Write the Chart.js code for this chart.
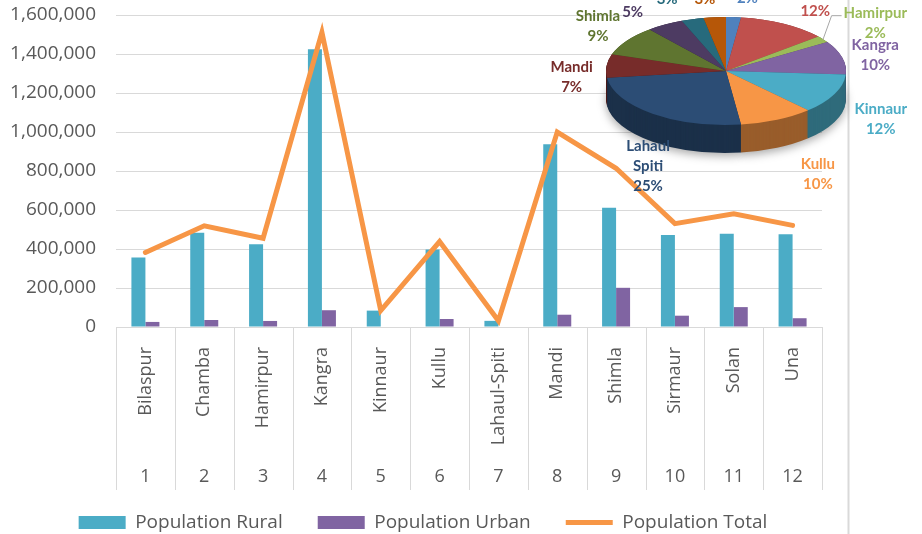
<!DOCTYPE html>
<html><head><meta charset="utf-8">
<script src="https://cdn.jsdelivr.net/npm/chart.js@4.4.0/dist/chart.umd.min.js"></script>
<style>
html,body{margin:0;padding:0;background:#fff;overflow:hidden;}
#wrap{position:relative;width:922px;height:534px;overflow:hidden;background:#fff;}
#main{position:absolute;left:0;top:0;width:922px;height:534px;}
#pie{position:absolute;left:540px;top:-60px;width:382px;height:300px;}
</style></head><body>
<div id="wrap">
<canvas id="main" width="922" height="534"></canvas>
<canvas id="pie" width="382" height="300"></canvas>
</div>
<script>
// ---- data ----
const districts = ['Bilaspur','Chamba','Hamirpur','Kangra','Kinnaur','Kullu','Lahaul-Spiti','Mandi','Shimla','Sirmaur','Solan','Una'];
const districtNumbers = ['1','2','3','4','5','6','7','8','9','10','11','12'];
const populationRural = [356000, 483000, 424000, 1425000, 84000, 397000, 31500, 937000, 612000, 472000, 478000, 476000];
const populationUrban = [26000, 36000, 31000, 86000, 0, 41000, 0, 63000, 201000, 58000, 102000, 45000];
const populationTotal = [382000, 519000, 455000, 1511000, 84000, 438000, 31500, 1000000, 814000, 530000, 580000, 521000];
const yTicks = [0, 200000, 400000, 600000, 800000, 1000000, 1200000, 1400000, 1600000];
const pieLabels = ['Bilaspur','Chamba','Hamirpur','Kangra','Kinnaur','Kullu','Lahaul Spiti','Mandi','Shimla','Sirmaur','Solan','Una'];
const pieShare = [2, 12, 2, 10, 12, 10, 25, 7, 9, 5, 3, 3];

// ---- styles ----
const GRID = '#d9d9d9', TXT = '#595959';
const FONT = "'Open Sans', 'DejaVu Sans', sans-serif";
const pieColors = ['#4F81BD','#C0504D','#9BBB59','#8064A2','#4BACC6','#F79646','#2C4D75','#772C2A','#5F7530','#4D3B62','#276A7C','#B65708'];
function darken(hex, f){
  const n = parseInt(hex.slice(1),16);
  const r = Math.round(((n>>16)&255)*f), g = Math.round(((n>>8)&255)*f), b = Math.round((n&255)*f);
  return 'rgb('+r+','+g+','+b+')';
}

const separators = {
  id: 'separators',
  afterDraw(chart){
    const {ctx, scales:{x, x2}} = chart;
    const n = x.ticks.length, w = x.width / n;
    ctx.save();
    ctx.strokeStyle = GRID; ctx.lineWidth = 1;
    for (let i = 0; i <= n; i++){
      const px = Math.round(x.left + i*w) + 0.5;
      ctx.beginPath(); ctx.moveTo(px, x.top); ctx.lineTo(px, x2.top + 43); ctx.stroke();
    }
    // chart frame line at right
    const fx = chart.chartArea.right + 26.5;
    ctx.lineWidth = 2;
    ctx.beginPath(); ctx.moveTo(fx, 0); ctx.lineTo(fx, chart.height); ctx.stroke();
    ctx.restore();
  }
};

new Chart(document.getElementById('main'), {
  type: 'bar',
  data: {
    labels: districts,
    datasets: [
      {label:'Population Rural', data: populationRural, backgroundColor:'#4BACC6', borderWidth:0, order:2, pointStyle:'rect', categoryPercentage:0.476, barPercentage:1},
      {label:'Population Urban', data: populationUrban, backgroundColor:'#8064A2', borderWidth:0, order:2, pointStyle:'rect', categoryPercentage:0.476, barPercentage:1},
      {type:'line', label:'Population Total', data: populationTotal, borderColor:'#F79646', backgroundColor:'#F79646', borderWidth:5, pointRadius:0, pointStyle:'line', order:1, borderCapStyle:'round', borderJoinStyle:'miter', tension:0}
    ]
  },
  options: {
    responsive:false, animation:false, devicePixelRatio:1,
    layout:{padding:{left:0, right:76, top:15, bottom:-8}},
    scales: {
      x: {type:'category', weight:0, offset:true, grid:{display:false}, border:{display:false},
          ticks:{color:TXT, font:{family:FONT, size:18}, minRotation:90, maxRotation:90, padding:12, autoSkip:false},
          afterFit(s){ s.height = 120; }},
      x2: {type:'category', labels: districtNumbers, position:'bottom', weight:1, offset:true, grid:{display:false}, border:{display:false},
          ticks:{color:TXT, font:{family:FONT, size:18}, mirror:true, padding:-41, maxRotation:0, autoSkip:false},
          afterFit(s){ s.height = 31; }},
      y: {min:0, max:1600000, afterBuildTicks(s){ s.ticks = yTicks.map(v => ({value:v})); },
          ticks:{color:TXT, font:{family:FONT, size:19}, padding:0, callback:v => Number(v).toLocaleString('en-US')},
          grid:{color:GRID, drawTicks:true, tickLength:20, tickColor:'rgba(0,0,0,0)'}, border:{display:false},
          afterFit(s){ s.width = 116; }},
      yr: {position:'right', display:true, grid:{display:false}, border:{display:false}, ticks:{display:false},
          afterFit(s){ s.width = 24; }}
    },
    plugins: {
      legend:{position:'bottom', labels:{usePointStyle:true, pointStyleWidth:47, boxHeight:13, color:TXT, font:{family:FONT, size:19}, padding:35,
              sort:(a,b) => a.datasetIndex - b.datasetIndex}},
      tooltip:{enabled:false}
    }
  },
  plugins:[separators]
});

// ---- 3D pie ----
const pie3d = {
  id: 'pie3d',
  beforeDatasetsDraw(chart, args, opts){
    const ctx = chart.ctx, meta = chart.getDatasetMeta(0);
    const cx = meta.data[0].x, cy = meta.data[0].y, k = opts.tilt;
    ctx.save();
    ctx.translate(cx, cy); ctx.scale(1, k); ctx.translate(-cx, -cy);
    const step = 1 / k, depth = opts.depth / k;
    for (let d = depth; d > 0; d -= step){
      ctx.save();
      if (d === depth){ ctx.shadowColor = 'rgba(0,0,0,0.35)'; ctx.shadowBlur = 10; ctx.shadowOffsetY = 3; }
      ctx.translate(0, d);
      meta.data.forEach((arc, i) => {
        const o = arc.options;
        const c = darken(pieColors[i], 0.62);
        arc.options = Object.assign({}, o, {backgroundColor:c, borderColor:c, borderWidth:0});
        arc.draw(ctx);
        arc.options = o;
      });
      ctx.restore();
    }
  },
  afterDatasetsDraw(chart){ chart.ctx.restore(); }
};

const pieText = {
  id: 'pieText',
  afterDraw(chart, args, opts){
    const ctx = chart.ctx, meta = chart.getDatasetMeta(0);
    const data = chart.data.datasets[0].data;
    const total = data.reduce((a,b)=>a+b, 0);
    ctx.save();
    ctx.font = "bold 15px Lato, 'Open Sans', sans-serif";
    ctx.textAlign = 'center'; ctx.textBaseline = 'middle';
    meta.data.forEach((arc, i) => {
      const a = (arc.startAngle + arc.endAngle) / 2;
      const c = Math.cos(a), s = Math.sin(a);
      const nd = opts.nudge[i] || [0,0];
      const x = arc.x + opts.rx * c + nd[0];
      const y = arc.y + opts.ry * s + (s > 0 ? s * opts.depth : 0) + nd[1];
      const lines = chart.data.labels[i].split(' ').concat([Math.round(data[i] / total * 100) + '%']);
      const lh = 20, y0 = y - (lines.length - 1) * lh / 2;
      ctx.fillStyle = pieColors[i];
      lines.forEach((t, j) => ctx.fillText(t, x, y0 + j * lh));
      if (opts.leader.includes(i)){
        const w = Math.max(...lines.map(t => ctx.measureText(t).width));
        const ex = arc.x + arc.outerRadius * c, ey = arc.y + arc.outerRadius * opts.tilt * s;
        ctx.strokeStyle = '#a6a6a6'; ctx.lineWidth = 1;
        ctx.beginPath(); ctx.moveTo(ex, ey); ctx.lineTo(x - w/2 - 12, y0 + 3); ctx.lineTo(x - w/2 - 2, y0 + 3); ctx.stroke();
      }
    });
    ctx.restore();
  }
};

new Chart(document.getElementById('pie'), {
  type: 'pie',
  data: {labels: pieLabels, datasets: [{data: pieShare, backgroundColor: pieColors, borderWidth: 0, clip: false}]},
  options: {
    responsive:false, animation:false, devicePixelRatio:1,
    layout:{padding:{left:66, right:76, top:11, bottom:49}},
    plugins: {
      legend:{display:false}, tooltip:{enabled:false},
      pie3d:{tilt:0.45, depth:28},
      pieText:{rx:150, ry:72, depth:28, tilt:0.45, leader:[2],
        nudge:[[12,-11],[17,-7],[28,-6],[4,2],[19,6],[28,13],[14,16],[-5,13],[-4,-4],[-17,-7],[-17,-13],[-7,-10]]}
    }
  },
  plugins:[pie3d, pieText]
});
</script>
</body></html>
